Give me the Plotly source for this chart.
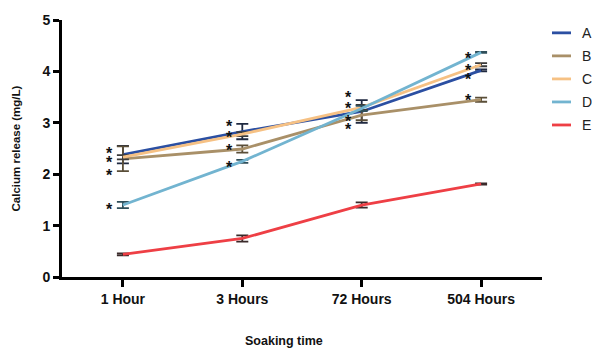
import plotly.graph_objects as go

categories = ["1 Hour", "3 Hours", "72 Hours", "504 Hours"]
series_names = ["A", "B", "C", "D", "E"]
A_vals = [2.38, 2.83, 3.22, 4.02]
B_vals = [2.30, 2.49, 3.15, 3.45]
C_vals = [2.33, 2.78, 3.30, 4.13]
D_vals = [1.40, 2.25, 3.28, 4.37]
E_vals = [0.44, 0.75, 1.40, 1.81]
A_err = [0.17, 0.15, 0.22, 0.02]
B_err = [0.24, 0.07, 0.10, 0.04]
C_err = [0.04, 0.04, 0.05, 0.03]
D_err = [0.06, 0.03, 0.05, 0.01]
E_err = [0.02, 0.06, 0.05, 0.01]
colors = ["#2B4FA2", "#A99068", "#F6C184", "#72B4D0", "#EE3F45"]
err_colors = ["#1F2940", "#5A4E38", "#3a3a3a", "#2F4F5A", "#3a2a2a"]

# significance asterisks (category, y value)
star_cats = ["1 Hour"] * 4 + ["3 Hours"] * 4 + ["72 Hours"] * 4 + ["504 Hours"] * 4
star_vals = [2.50, 2.33, 2.08, 1.42,
             3.02, 2.81, 2.56, 2.23,
             3.58, 3.37, 3.13, 2.96,
             4.35, 4.12, 3.94, 3.54]

values = [A_vals, B_vals, C_vals, D_vals, E_vals]
errors = [A_err, B_err, C_err, D_err, E_err]

FONT = "Arial, Liberation Sans, sans-serif"
fig = go.Figure()
for name, v, e, c, ec in zip(series_names, values, errors, colors, err_colors):
    fig.add_trace(go.Scatter(
        x=categories, y=v, mode="lines", name=name,
        line=dict(color=c, width=2.8),
        error_y=dict(type="data", array=e, visible=True, color=ec, thickness=1.8, width=6),
        showlegend=False,
    ))

annotations = []
for sc, sv in zip(star_cats, star_vals):
    annotations.append(dict(x=sc, y=sv, xref="x", yref="y", text="<b>*</b>", showarrow=False,
                            xshift=-13, yshift=-5, font=dict(family=FONT, size=16, color="#111"),
                            xanchor="center", yanchor="middle"))

# manual legend
L, R, T, B = 62, 542, 17, 277
W, H = R - L, B - T
def px(x):
    return (x - L) / W
def py(y):
    return (B - y) / H

shapes = []
for i, (name, c) in enumerate(zip(series_names, colors)):
    yy = 30 + i * 23.3
    shapes.append(dict(type="line", xref="paper", yref="paper", x0=px(552), x1=px(571),
                       y0=py(yy), y1=py(yy), line=dict(color=c, width=2.8)))
    annotations.append(dict(x=px(580), y=py(yy), xref="paper", yref="paper", text=name,
                            showarrow=False, xanchor="left", yanchor="middle",
                            font=dict(family=FONT, size=14, color="#222")))

annotations.append(dict(x=px(284), y=py(342), xref="paper", yref="paper", text="<b>Soaking time</b>",
                        showarrow=False, xanchor="center", yanchor="middle",
                        font=dict(family=FONT, size=12.5, color="#111")))
annotations.append(dict(x=px(15), y=py(147), xref="paper", yref="paper",
                        text="<b>Calcium release (mg/L)</b>", textangle=-90,
                        showarrow=False, xanchor="center", yanchor="middle",
                        font=dict(family=FONT, size=11.5, color="#111")))

fig.update_layout(
    width=592, height=349,
    margin=dict(l=L, r=592 - R, t=T, b=349 - B),
    paper_bgcolor="white", plot_bgcolor="white",
    showlegend=False,
    annotations=annotations, shapes=shapes,
    xaxis=dict(type="category", range=[-0.51, 3.51], showline=True, linecolor="black", linewidth=3,
               ticks="outside", ticklen=7, tickwidth=2.5, tickcolor="black", showgrid=False, zeroline=False,
               tickfont=dict(family=FONT, size=14, color="#111"), tickprefix="<b>", ticksuffix="</b>"),
    yaxis=dict(range=[0, 5], dtick=1, showline=True, linecolor="black", linewidth=3,
               ticks="outside", ticklen=6, tickwidth=2.5, tickcolor="black", showgrid=False, zeroline=False,
               tickfont=dict(family=FONT, size=14, color="#111"), tickprefix="<b>", ticksuffix="</b>"),
)

fig.write_html("out.html", config={"displayModeBar": False},
               post_script="document.body.style.margin='0';document.body.style.overflow='hidden';")
